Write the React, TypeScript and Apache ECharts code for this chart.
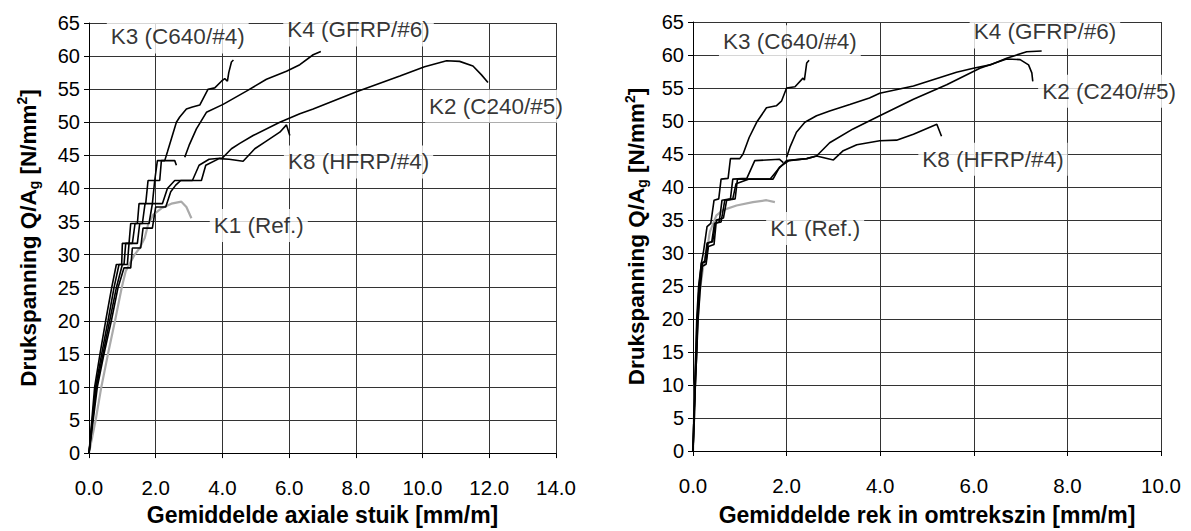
import React, { useEffect, useRef } from "react";
import * as echarts from "echarts";

// ---------- Left chart: axial strain ----------
const k3Left: number[][] = [[0,0],[0.17,10],[0.33,15],[0.5,20],[0.68,25],[0.82,28.5],[0.98,28.5],[1.0,31.7],[1.2,31.7],[1.25,34.7],[1.45,34.7],[1.5,37.7],[1.7,37.7],[1.77,41.2],[1.97,41.2],[2.05,44.2],[2.27,44.2],[2.35,45.5],[2.47,47.5],[2.62,50.0],[2.72,50.8],[2.92,52.0],[3.1,52.3],[3.32,52.6],[3.57,55.0],[3.77,55.2],[3.97,56.2],[4.07,56.6],[4.15,56.2],[4.19,57.5],[4.27,59.1],[4.33,59.4]];
const k4LeftLower: number[][] = [[0,0],[0.2,10],[0.38,15],[0.57,20],[0.75,25],[0.9,28.5],[1.05,28.5],[1.1,31.7],[1.3,31.7],[1.38,34.7],[1.6,34.7],[1.68,37.7],[1.9,37.7],[1.97,41.2],[2.12,41.2],[2.17,44.2],[2.57,44.2],[2.62,43.5]];
const k4LeftUpper: number[][] = [[2.87,44.7],[3.0,46.5],[3.22,49.0],[3.52,51.5],[4.02,52.7],[4.72,54.7],[5.32,56.5],[5.92,57.7],[6.32,58.7],[6.72,60.2],[6.95,60.7]];
const k2Left: number[][] = [[0,0],[0.22,10],[0.42,15],[0.62,20],[0.82,25],[1.0,28.5],[1.15,28.5],[1.2,31.7],[1.45,31.7],[1.52,34.7],[1.8,34.7],[1.9,37.7],[2.2,37.7],[2.35,40],[2.57,41.2],[3.1,41.2],[3.3,43.5],[3.6,44.4],[4.0,44.6],[4.27,46.0],[4.52,46.8],[4.92,48.0],[5.72,50.0],[6.32,51.3],[6.72,52.0],[8.02,54.6],[9.32,57.0],[10.06,58.4],[10.72,59.3],[11.11,59.2],[11.51,58.5],[11.76,57.2],[11.96,56.0]];
const k8Left: number[][] = [[0,0],[0.25,10],[0.45,15],[0.67,20],[0.87,25],[1.05,28.0],[1.25,28.0],[1.3,31],[1.55,31],[1.62,34],[1.9,34],[2.0,37.2],[2.3,37.2],[2.45,39.5],[2.6,40.5],[2.75,41.2],[3.37,41.2],[3.5,43.5],[3.9,44.5],[4.2,44.4],[4.62,44.1],[4.97,46],[5.27,47],[5.72,48.5],[5.92,49.6],[6.02,48.0]];
const k1Left: number[][] = [[0,0],[0.2,5],[0.37,10],[0.57,15],[0.78,20],[0.98,25],[1.1,27.5],[1.37,30],[1.52,31],[1.67,32.5],[1.77,34.5],[1.92,36],[2.17,37],[2.47,37.7],[2.77,38],[2.92,37.2],[3.07,35.5]];

// ---------- Right chart: circumferential strain ----------
const k3Right: number[][] = [[0,0],[0.02,5],[0.04,10],[0.06,15],[0.08,20],[0.12,25],[0.18,28.5],[0.22,30],[0.25,31.5],[0.3,34],[0.38,34.5],[0.45,38],[0.55,38.2],[0.6,41.2],[0.75,41.3],[0.8,44.3],[1.0,44.3],[1.07,45],[1.2,47.5],[1.36,49.8],[1.57,52.0],[1.78,52.3],[1.89,53],[2.0,55.0],[2.18,55.2],[2.35,56.5],[2.38,56.2],[2.43,58.8],[2.48,59.2]];
const k4RightLower: number[][] = [[0,0],[0.02,5],[0.04,10],[0.07,15],[0.09,20],[0.13,25],[0.18,28.5],[0.25,28.7],[0.3,31.5],[0.4,31.7],[0.46,34.5],[0.56,34.7],[0.62,38],[0.8,38.2],[0.85,41.2],[1.15,41.3],[1.32,44.0],[1.85,44.2],[1.93,43.7]];
const k4RightUpper: number[][] = [[2.0,44.5],[2.07,46],[2.21,48.3],[2.39,49.8],[2.64,50.8],[2.92,51.5],[3.35,52.5],[3.77,53.5],[3.99,54.2],[4.71,55.3],[5.63,57.4],[5.99,58.0],[6.35,58.5],[6.70,59.5],[7.13,60.5],[7.45,60.6]];
const k2Right: number[][] = [[0,0],[0.02,5],[0.05,10],[0.08,15],[0.1,20],[0.14,25],[0.2,28.5],[0.28,28.7],[0.32,31.5],[0.42,31.7],[0.48,34.5],[0.6,34.7],[0.68,38],[0.85,38.2],[0.92,40.5],[1.2,41.2],[1.65,41.2],[1.82,42.7],[2.0,44.0],[2.43,44.3],[2.64,44.7],[2.92,46.7],[3.42,48.8],[3.99,50.8],[4.71,53.3],[5.42,55.5],[6.13,58.0],[6.70,59.4],[6.99,59.3],[7.17,58.5],[7.24,57.3],[7.26,56.0]];
const k8Right: number[][] = [[0,0],[0.03,5],[0.05,10],[0.08,15],[0.11,20],[0.16,25],[0.2,28],[0.28,28.3],[0.33,31],[0.45,31.3],[0.5,35],[0.65,35.3],[0.72,38],[0.9,38.2],[0.95,41.2],[1.71,41.2],[1.85,43],[2.05,44.0],[2.43,44.3],[2.64,44.7],[3.0,44.1],[3.21,45.5],[3.5,46.4],[3.99,47.0],[4.35,47.1],[4.71,48.0],[5.21,49.5],[5.31,47.7]];
const k1Right: number[][] = [[0,0],[0.04,10],[0.08,18],[0.14,24],[0.22,28],[0.3,30.5],[0.36,33.2],[0.5,35.7],[0.64,36.5],[0.93,37.2],[1.28,37.7],[1.57,38.0],[1.75,37.7]];

// ---------- Annotation labels (name, x, y in data units) ----------
const labelsLeft: [string, number, number][] = [
  ["K3 (C640/#4)", 2.66, 62.9],
  ["K4 (GFRP/#6)", 8.08, 63.95],
  ["K2 (C240/#5)", 12.2, 52.4],
  ["K8 (HFRP/#4)", 8.08, 44.0],
  ["K1 (Ref.)", 5.09, 34.4],
];
const labelsRight: [string, number, number][] = [
  ["K3 (C640/#4)", 2.07, 62.0],
  ["K4 (GFRP/#6)", 7.52, 63.5],
  ["K2 (C240/#5)", 8.89, 54.5],
  ["K8 (HFRP/#4)", 6.41, 44.2],
  ["K1 (Ref.)", 2.61, 33.7],
];

const xTitleLeft = "Gemiddelde axiale stuik [mm/m]";
const xTitleRight = "Gemiddelde rek in omtrekszin [mm/m]";
const yTitle = "{b|Drukspanning Q/A}{s|g}{b| [N/mm}{p|2}{b|]}";

const FONT = "Arial, 'Liberation Sans', sans-serif";

export default function App() {
  const ref = useRef<HTMLDivElement>(null);
  useEffect(() => {
    if (!ref.current) return;
    const chart = echarts.init(ref.current, undefined, { renderer: "svg" });

    const yAxisCommon = (gridIndex: number, gap: number) => ({
      type: "value",
      gridIndex,
      min: 0,
      max: 65,
      interval: 5,
      name: yTitle,
      nameLocation: "middle",
      nameGap: gap,
      nameTextStyle: {
        rich: {
          b: { fontSize: 22.5, fontWeight: "bold", fontFamily: FONT, color: "#000", lineHeight: 26 },
          s: { fontSize: 14, fontWeight: "bold", fontFamily: FONT, color: "#000", verticalAlign: "bottom", lineHeight: 14 },
          p: { fontSize: 14, fontWeight: "bold", fontFamily: FONT, color: "#000", verticalAlign: "top", lineHeight: 14 },
        },
      },
      axisLine: { show: true, lineStyle: { color: "#000", width: 1 } },
      axisTick: { show: true, inside: false, length: 5, lineStyle: { color: "#000" } },
      axisLabel: { fontSize: 20, fontFamily: FONT, color: "#000", margin: 9 },
      splitLine: { show: true, lineStyle: { color: "#333", width: 1 } },
    });
    const xAxisCommon = (gridIndex: number, max: number, title: string, gap: number) => ({
      type: "value",
      gridIndex,
      min: 0,
      max,
      interval: 2,
      name: title,
      nameLocation: "middle",
      nameGap: gap,
      nameTextStyle: { fontSize: 23, fontWeight: "bold", fontFamily: FONT, color: "#000" },
      axisLine: { show: true, onZero: false, lineStyle: { color: "#000", width: 1 } },
      axisTick: { show: true, inside: false, length: 5, lineStyle: { color: "#000" } },
      axisLabel: { fontSize: 20.5, fontFamily: FONT, color: "#000", margin: 24, formatter: (v: number) => v.toFixed(1) },
      splitLine: { show: true, lineStyle: { color: "#333", width: 1 } },
    });

    const line = (data: number[][], idx: number, gray = false) => ({
      type: "line",
      xAxisIndex: idx,
      yAxisIndex: idx,
      data,
      showSymbol: false,
      symbol: "none",
      lineStyle: { color: gray ? "#aaaaaa" : "#000", width: gray ? 2.2 : 1.6 },
      z: 3,
    });
    const labels = (list: [string, number, number][], idx: number) => ({
      type: "scatter",
      xAxisIndex: idx,
      yAxisIndex: idx,
      data: list.map(([n, x, y]) => ({ name: n, value: [x, y] })),
      symbolSize: 1,
      itemStyle: { color: "transparent" },
      clip: false,
      z: 5,
      label: {
        show: true,
        position: "inside",
        formatter: (p: any) => p.name,
        fontSize: 22.5,
        fontFamily: FONT,
        color: "#000",
        backgroundColor: "#fff",
        padding: [5, 4, 5, 4],
      },
    });

    chart.setOption({
      animation: false,
      backgroundColor: "#fff",
      grid: [
        { left: 89, top: 23, width: 467, height: 434 },
        { left: 693, top: 22, width: 468, height: 432 },
      ],
      xAxis: [xAxisCommon(0, 14, xTitleLeft, 49), xAxisCommon(1, 10, xTitleRight, 52)],
      yAxis: [yAxisCommon(0, 48), yAxisCommon(1, 44)],
      series: [
        line(k1Left, 0, true),
        line(k3Left, 0),
        line(k4LeftLower, 0),
        line(k4LeftUpper, 0),
        line(k2Left, 0),
        line(k8Left, 0),
        labels(labelsLeft, 0),
        line(k1Right, 1, true),
        line(k3Right, 1),
        line(k4RightLower, 1),
        line(k4RightUpper, 1),
        line(k2Right, 1),
        line(k8Right, 1),
        labels(labelsRight, 1),
      ],
    });
    return () => chart.dispose();
  }, []);
  return (
    <div
      ref={ref}
      style={{ position: "fixed", left: 0, top: 0, width: 1191, height: 531, background: "#fff" }}
    />
  );
}
